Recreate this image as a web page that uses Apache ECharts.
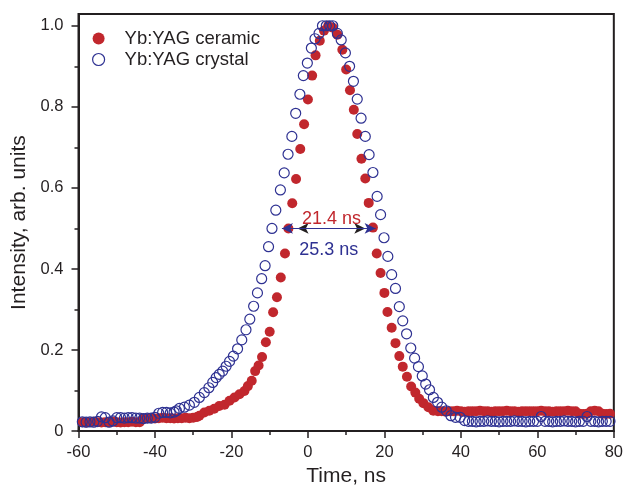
<!DOCTYPE html>
<html>
<head>
<meta charset="utf-8">
<title>Yb:YAG pulse shape</title>
<script src="https://cdn.jsdelivr.net/npm/echarts@6/dist/echarts.min.js"></script>
<style>
  html, body { margin: 0; padding: 0; background: #fff; }
  #chart { width: 626px; height: 492px; }
</style>
</head>
<body>
<div id="chart"></div>
<script>
// axis ticks
const timeTicks = [-60, -40, -20, 0, 20, 40, 60, 80];
const intensityTicks = [0, 0.2, 0.4, 0.6, 0.8, 1.0];
const intensityMinorTicks = [0.1, 0.3, 0.5, 0.7, 0.9];

// Yb:YAG ceramic (filled red circles), time in ns
const ceramicTime = [
    -59, -58, -57, -56, -55, -54, -53, -52, -51, -50, -49, -48, -47, -46, -45, -44,
    -43, -42, -41, -40, -39, -38, -37, -36, -35, -34, -33, -32, -31, -30, -29,
    -28.4, -27.1, -25.8, -24.5, -23.2, -21.8, -20.5, -19.2, -17.9, -16.6, -15.7, -14.7, -13.8, -12.9, -12.0, -11.0, -10.0, -9.1, -8.1, -7.1,
    -6.0, -5.1, -4.1, -3.1, -2.0, -1.0, 0.0, 1.1, 2.0, 3.1, 4.2, 5.3, 6.5, 7.7, 9.0, 10.0, 11.0, 12.0, 12.9, 14.0,
    15.0, 15.9, 17.0, 18.0, 19.0, 20.0, 20.8, 21.9, 22.9, 23.9, 24.8, 25.9, 27.0, 28.1, 29.1, 30.2, 31.5, 32.8,
    34, 35, 36, 37, 38, 39, 40, 41, 42, 43, 44, 45, 46, 47, 48, 49, 50, 51, 52, 53, 54, 55, 56, 57, 58, 59,
    60, 61, 62, 63, 64, 65, 66, 67, 68, 69, 70, 71, 72, 73, 74, 75, 76, 77, 78, 79
];
const ceramicIntensity = [
    0.022, 0.021, 0.022, 0.023, 0.022, 0.021, 0.022, 0.022, 0.023, 0.022, 0.021, 0.022, 0.022, 0.023, 0.022, 0.022,
    0.031, 0.032, 0.032, 0.031, 0.032, 0.033, 0.032, 0.032, 0.031, 0.032, 0.032, 0.033, 0.032, 0.033, 0.035,
    0.038, 0.046, 0.050, 0.055, 0.062, 0.065, 0.075, 0.083, 0.091, 0.099, 0.111, 0.124, 0.148, 0.162, 0.183, 0.219, 0.245, 0.293, 0.330, 0.379,
    0.438, 0.500, 0.562, 0.622, 0.696, 0.757, 0.818, 0.877, 0.927, 0.963, 0.988, 1.000, 0.995, 0.978, 0.941, 0.892, 0.841, 0.793, 0.733, 0.672,
    0.623, 0.563, 0.502, 0.438, 0.390, 0.341, 0.294, 0.255, 0.217, 0.185, 0.159, 0.134, 0.110, 0.095, 0.080, 0.069, 0.059, 0.050,
    0.049, 0.049, 0.048, 0.049, 0.049, 0.050, 0.049, 0.048, 0.049, 0.049, 0.049, 0.050, 0.049, 0.049, 0.048, 0.049, 0.049, 0.049, 0.050, 0.049, 0.049, 0.048, 0.049, 0.049, 0.049, 0.049,
    0.049, 0.050, 0.049, 0.049, 0.048, 0.049, 0.049, 0.049, 0.050, 0.049, 0.049, 0.043, 0.042, 0.043, 0.049, 0.050, 0.049, 0.043, 0.042, 0.043
];

// Yb:YAG crystal (open blue circles), time in ns
const crystalTime = [
    -59, -58, -57, -56, -55, -54, -53, -52, -51, -50, -49, -48, -47, -46, -45, -44, -43, -42, -41, -40, -39, -38, -37, -36, -35,
    -34.4, -33.6, -32.3, -31.0, -29.7, -28.4, -27.1, -25.9, -24.9, -24.0, -23.2, -22.3, -21.4, -20.5, -19.5, -18.4, -17.3, -16.2, -15.2, -14.2,
    -13.2, -12.1, -11.2, -10.3, -9.4, -8.4, -7.2, -6.2, -5.2, -4.2, -3.2, -2.1, -1.2, -0.15, 0.9, 1.85, 2.9, 3.8, 4.8, 5.7,
    6.5, 7.7, 8.7, 9.8, 10.9, 11.9, 12.9, 13.9, 15.0, 16.0, 17.0, 18.1, 19.0, 19.9, 20.9, 21.9, 22.9, 23.9, 24.8, 25.8,
    26.9, 27.9, 28.9, 29.9, 30.8, 31.8, 32.8, 33.9, 35.0, 36.2, 37.4, 38.6, 39.8, 41.0,
    42, 43, 44, 45, 46, 47, 48, 49, 50, 51, 52, 53, 54, 55, 56, 57, 58, 59, 60,
    61, 62, 63, 64, 65, 66, 67, 68, 69, 70, 71, 72, 73, 74, 75, 76, 77, 78, 79
];
const crystalIntensity = [
    0.023, 0.022, 0.023, 0.022, 0.024, 0.035, 0.033, 0.022, 0.025, 0.033, 0.033, 0.032, 0.033, 0.033, 0.032, 0.032, 0.031, 0.032, 0.032, 0.034, 0.044, 0.046, 0.046, 0.045, 0.047,
    0.050, 0.056, 0.059, 0.064, 0.071, 0.083, 0.095, 0.107, 0.120, 0.132, 0.140, 0.148, 0.160, 0.172, 0.185, 0.203, 0.225, 0.250, 0.276, 0.308,
    0.341, 0.376, 0.408, 0.455, 0.500, 0.545, 0.595, 0.637, 0.683, 0.727, 0.784, 0.831, 0.877, 0.908, 0.945, 0.968, 0.981, 1.000, 1.000, 1.000,
    1.000, 0.981, 0.965, 0.933, 0.900, 0.863, 0.819, 0.772, 0.727, 0.682, 0.638, 0.579, 0.534, 0.477, 0.431, 0.386, 0.352, 0.307, 0.272, 0.240,
    0.205, 0.180, 0.159, 0.136, 0.116, 0.102, 0.083, 0.071, 0.059, 0.050, 0.038, 0.034, 0.034, 0.026,
    0.024, 0.024, 0.023, 0.024, 0.024, 0.025, 0.024, 0.024, 0.023, 0.024, 0.024, 0.024, 0.025, 0.024, 0.024, 0.023, 0.024, 0.024, 0.024,
    0.036, 0.024, 0.024, 0.023, 0.024, 0.024, 0.025, 0.024, 0.024, 0.023, 0.024, 0.024, 0.036, 0.024, 0.024, 0.023, 0.024, 0.024, 0.024
];

// FWHM arrows at half maximum (arrow ends in ns)
const fwhmLevel = 0.5;
const ceramicFwhm = [-2.7, 15.0];
const crystalFwhm = [-6.8, 17.7];
const fwhmLabels = ['21.4 ns', '25.3 ns'];

const seriesNames = ['Yb:YAG ceramic', 'Yb:YAG crystal'];

const FONT = '"Liberation Sans", Arial, Helvetica, sans-serif';
const INK = '#231f20';
const RED = '#c1272d';
const BLUE = '#2e3192';

const chart = echarts.init(document.getElementById('chart'));

const tickLine = { color: INK, width: 1.5 };

const option = {
    animation: false,
    textStyle: { fontFamily: FONT, color: INK },
    grid: {
        left: 78.5, right: 10, top: 14, bottom: 56.3,
        show: true, borderColor: INK, borderWidth: 2, backgroundColor: 'transparent'
    },
    legend: {
        orient: 'vertical',
        left: 87,
        top: 24,
        itemWidth: 42,
        itemHeight: 12,
        itemGap: 2,
        textStyle: { fontSize: 18.5, color: INK, lineHeight: 18, fontFamily: FONT },
        data: [
            { name: seriesNames[0], icon: 'circle' },
            { name: seriesNames[1], icon: 'circle', itemStyle: { color: 'transparent', borderColor: BLUE, borderWidth: 1.2 } }
        ]
    },
    xAxis: {
        type: 'value',
        min: timeTicks[0],
        max: timeTicks[timeTicks.length - 1],
        interval: 20,
        name: 'Time, ns',
        nameLocation: 'middle',
        nameGap: 30,
        nameTextStyle: { fontSize: 21, color: INK, fontFamily: FONT },
        axisLine: { onZero: false, lineStyle: { color: INK, width: 2 } },
        axisTick: { length: 7, lineStyle: tickLine },
        minorTick: { show: true, splitNumber: 2, length: 4, lineStyle: tickLine },
        axisLabel: { fontSize: 16.5, color: INK, margin: 13, fontFamily: FONT },
        splitLine: { show: false }
    },
    yAxis: [
        {
            type: 'value',
            min: 0,
            max: 1.029,
            interval: 0.2,
            name: 'Intensity, arb. units',
            nameLocation: 'middle',
            nameGap: 40,
            nameTextStyle: { fontSize: 21, color: INK, fontFamily: FONT },
            axisLine: { show: true, onZero: false, lineStyle: { color: INK, width: 2 } },
            axisTick: { show: true, length: 7, customValues: intensityTicks, lineStyle: tickLine },
            axisLabel: {
                fontSize: 16.5, color: INK, margin: 15, fontFamily: FONT,
                customValues: intensityTicks,
                formatter: function (v) { return v === 0 ? '0' : v.toFixed(1); }
            },
            splitLine: { show: false }
        },
        {
            // minor ticks only
            type: 'value',
            min: 0,
            max: 1.029,
            position: 'left',
            axisLine: { show: false, onZero: false },
            axisLabel: { show: false },
            axisTick: { show: true, length: 4, customValues: intensityMinorTicks, lineStyle: tickLine },
            splitLine: { show: false }
        }
    ],
    series: [
        {
            name: seriesNames[0],
            type: 'scatter',
            symbol: 'circle',
            symbolSize: 10,
            itemStyle: { color: RED, opacity: 1 },
            data: ceramicTime.map((t, i) => [t, ceramicIntensity[i]]),
            markLine: {
                silent: true,
                symbol: ['arrow', 'arrow'],
                symbolSize: [8, 11],
                lineStyle: { color: INK, width: 1, type: 'solid' },
                label: {
                    show: true, position: 'insideMiddleTop', formatter: fwhmLabels[0],
                    color: RED, fontSize: 18, fontFamily: FONT, distance: 0
                },
                data: [[{ coord: [ceramicFwhm[0], fwhmLevel] }, { coord: [ceramicFwhm[1], fwhmLevel] }]]
            }
        },
        {
            name: seriesNames[1],
            type: 'scatter',
            symbol: 'circle',
            symbolSize: 10,
            itemStyle: { color: 'transparent', borderColor: BLUE, borderWidth: 1.2, opacity: 1 },
            data: crystalTime.map((t, i) => [t, crystalIntensity[i]]),
            markLine: {
                silent: true,
                symbol: ['arrow', 'arrow'],
                symbolSize: [8, 11],
                lineStyle: { color: BLUE, width: 1, type: 'solid' },
                label: {
                    show: true, position: 'insideMiddleBottom', formatter: fwhmLabels[1],
                    color: BLUE, fontSize: 18, fontFamily: FONT, distance: 13
                },
                data: [[{ coord: [crystalFwhm[0], fwhmLevel] }, { coord: [crystalFwhm[1], fwhmLevel] }]]
            }
        }
    ]
};

chart.setOption(option);

window.addEventListener('resize', function () {
    chart.resize();
});
</script>
</body>
</html>
